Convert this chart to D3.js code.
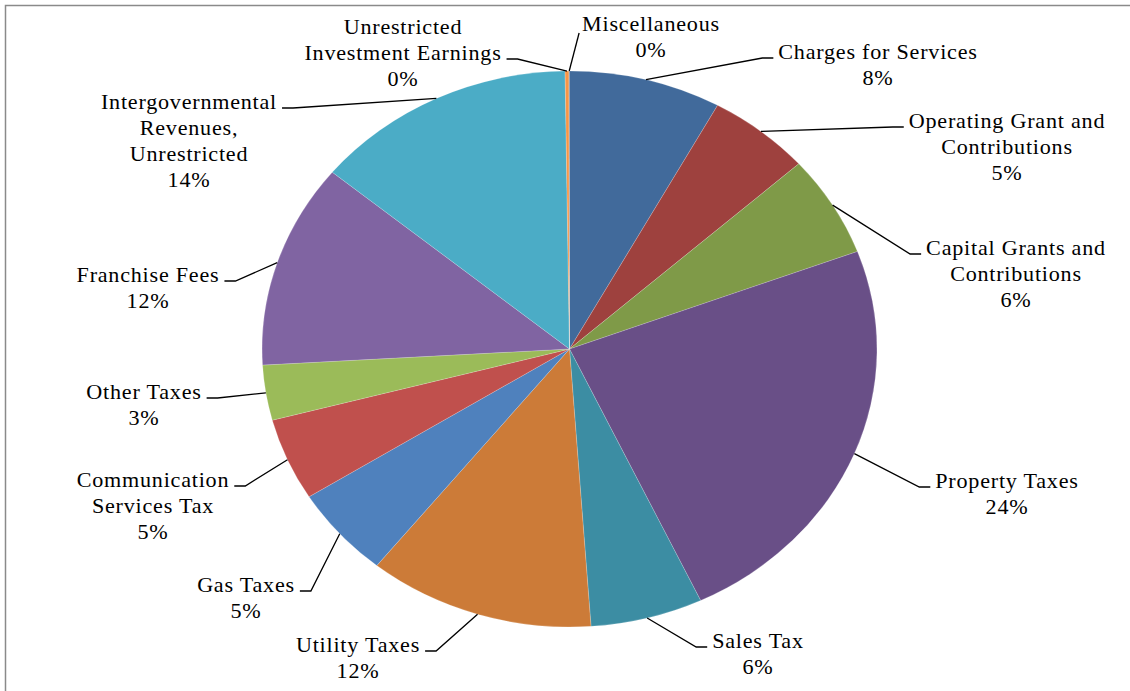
<!DOCTYPE html>
<html>
<head>
<meta charset="utf-8">
<script src="https://cdn.jsdelivr.net/npm/d3@7"></script>
<style>
  html, body { margin: 0; padding: 0; background: #ffffff; }
  svg { display: block; }
</style>
</head>
<body>
<svg id="chart" width="1130" height="691"></svg>
<script>
// Revenue categories, clockwise from 12 o'clock
const categories = [
  "Charges for Services", "Operating Grant and Contributions", "Capital Grants and Contributions",
  "Property Taxes", "Sales Tax", "Utility Taxes", "Gas Taxes", "Communication Services Tax",
  "Other Taxes", "Franchise Fees", "Intergovernmental Revenues, Unrestricted",
  "Unrestricted Investment Earnings", "Miscellaneous"
];
// Label text broken into lines
const labelLines = [
  ["Charges for Services"], ["Operating Grant and", "Contributions"], ["Capital Grants and", "Contributions"],
  ["Property Taxes"], ["Sales Tax"], ["Utility Taxes"], ["Gas Taxes"], ["Communication", "Services Tax"],
  ["Other Taxes"], ["Franchise Fees"], ["Intergovernmental", "Revenues,", "Unrestricted"],
  ["Unrestricted", "Investment Earnings"], ["Miscellaneous"]
];
// Share of total revenue (percent)
const shares = [8.0, 5.4, 5.9, 23.7, 5.9, 11.9, 5.3, 4.8, 3.2, 11.9, 13.8, 0.2, 0.03];
const colors = [
  "#416a9b", "#9e413e", "#7f9a48", "#694f87", "#3c8da3", "#cc7b38",
  "#4f81bd", "#c0504d", "#9bbb59", "#8064a2", "#4bacc6", "#f79646", "#2c4d75"
];
// Label block placement: centre x and first-line baseline (page px)
const labelAnchor = [
  [878, 59], [1007, 128], [1016, 255], [1007, 488], [758, 648], [358, 652],
  [246, 592], [153, 487], [144, 399], [148, 282], [189, 109], [403, 34], [651, 31]
];

const W = 1130, H = 691;
const sx = 1.106;              // horizontal stretch of the whole plot
const cxPage = 569.5, cy = 349, R = 278;
const cx = cxPage / sx;
const lineH = 26;

const svg = d3.select("#chart");

// Chart frame
svg.append("path")
  .attr("d", `M5.5,${H} V5.5 H${W}`)
  .attr("fill", "none")
  .attr("stroke", "#8a8a8a")
  .attr("stroke-width", 1.5);

const total = d3.sum(shares);
const pct = d3.format(".0%");

const pie = d3.pie().sort(null).value(d => d).startAngle(0).endAngle(2 * Math.PI);
const arcs = pie(shares);
const arc = d3.arc().innerRadius(0).outerRadius(R);

const plot = svg.append("g").attr("transform", `scale(${sx},1)`);

plot.append("g")
  .attr("transform", `translate(${cx},${cy})`)
  .selectAll("path")
  .data(arcs)
  .join("path")
  .attr("d", arc)
  .attr("fill", (d, i) => colors[i])
  .attr("stroke", "#ffffff")
  .attr("stroke-opacity", 0.35)
  .attr("stroke-width", 0.5);

// Labels (stretched together with the plot)
const labelG = plot.append("g")
  .attr("font-family", "'Liberation Serif', 'Times New Roman', serif")
  .attr("font-size", 20)
  .attr("letter-spacing", 0.7)
  .attr("fill", "#000000");

const leaderG = svg.append("g")
  .attr("fill", "none")
  .attr("stroke", "#000000")
  .attr("stroke-width", 1.3);

arcs.forEach((d, i) => {
  const [lx, ly] = labelAnchor[i];
  const lines = labelLines[i].concat([pct(d.value / total)]);
  const t = labelG.append("text")
    .attr("text-anchor", "middle");
  const widths = [];
  lines.forEach((s, k) => {
    const ts = t.append("tspan")
      .attr("x", lx / sx)
      .attr("y", ly + k * lineH)
      .text(s);
    widths.push(ts.node().getComputedTextLength() * sx);
  });

  // leader from the slice's outer edge to the widest line of the label
  const a = (d.startAngle + d.endAngle) / 2;
  const px = cxPage + R * sx * Math.sin(a);
  const py = cy - R * Math.cos(a);
  const wIdx = d3.maxIndex(widths.slice(0, lines.length - 1));
  const half = widths[wIdx] / 2;
  const ey = ly + wIdx * lineH - 1;
  let pts;
  if (px > lx - half - 15 && px < lx + half + 15) {
    // label sits right above the slice: plain line to its lower corner
    pts = [[px, py], [lx - half - 3, ly + 2]];
  } else if (px < lx) {
    const ex = lx - half - 5;
    pts = [[px, py], [ex - 11, ey], [ex, ey]];
  } else {
    const ex = lx + half + 5;
    pts = [[px, py], [ex + 11, ey], [ex, ey]];
  }
  leaderG.append("path").attr("d", d3.line()(pts));
});
</script>
</body>
</html>
